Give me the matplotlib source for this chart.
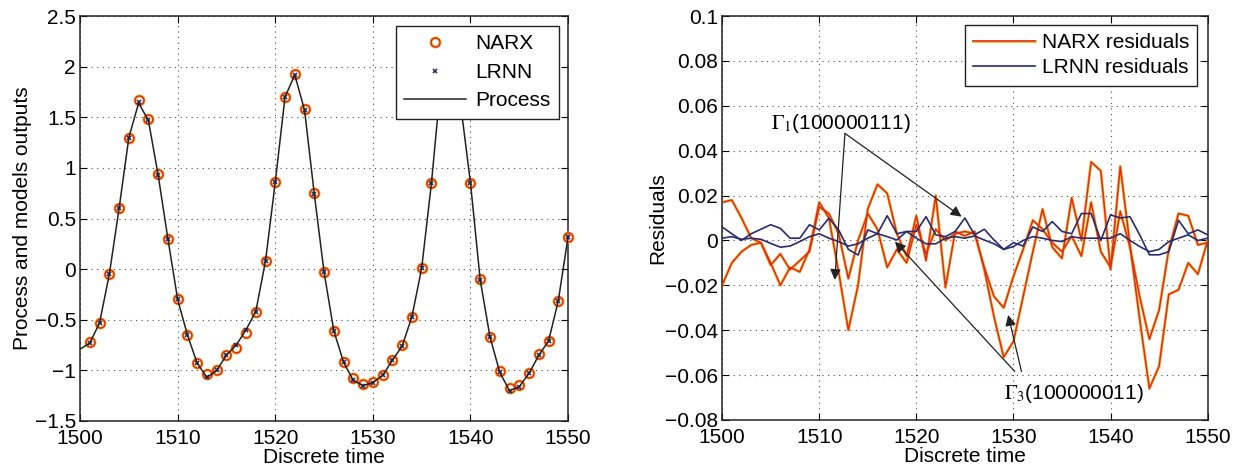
import matplotlib
matplotlib.use("Agg")
import matplotlib.pyplot as plt
from matplotlib.lines import Line2D
from matplotlib.legend_handler import HandlerTuple

plt.rcParams['font.family'] = ['Liberation Sans', 'DejaVu Sans']
plt.rcParams['mathtext.fontset'] = 'stix'

# left panel: process and model outputs
time = list(range(1500, 1551))
process = [-0.79, -0.73, -0.53, -0.05, 0.60, 1.30, 1.64, 1.47, 0.93, 0.30,
           -0.30, -0.65, -0.93, -1.07, -1.00, -0.85, -0.75, -0.60, -0.42, 0.08,
           0.86, 1.70, 1.92, 1.57, 0.74, -0.03, -0.61, -0.92, -1.10, -1.15,
           -1.12, -1.05, -0.90, -0.76, -0.47, 0.01, 0.85, 1.88, 2.15, 1.62,
           0.85, -0.11, -0.67, -1.02, -1.20, -1.16, -1.03, -0.85, -0.71, -0.31,
           0.32]
model_time = time[1:]
narx_out = [-0.72, -0.53, -0.05, 0.60, 1.30, 1.67, 1.48, 0.94, 0.30,
            -0.30, -0.65, -0.93, -1.04, -1.00, -0.85, -0.78, -0.63, -0.42, 0.08,
            0.86, 1.70, 1.93, 1.58, 0.75, -0.03, -0.61, -0.92, -1.08, -1.13,
            -1.11, -1.05, -0.90, -0.75, -0.47, 0.01, 0.85, 1.88, 2.15, 1.62,
            0.85, -0.10, -0.67, -1.01, -1.17, -1.14, -1.03, -0.84, -0.71, -0.31,
            0.32]
lrnn_out = [-0.73, -0.53, -0.05, 0.60, 1.30, 1.65, 1.47, 0.93, 0.30,
            -0.30, -0.65, -0.93, -1.07, -1.00, -0.85, -0.75, -0.60, -0.42, 0.08,
            0.86, 1.70, 1.92, 1.57, 0.74, -0.03, -0.61, -0.92, -1.10, -1.15,
            -1.12, -1.05, -0.90, -0.76, -0.47, 0.01, 0.85, 1.88, 2.15, 1.62,
            0.85, -0.11, -0.67, -1.02, -1.20, -1.16, -1.03, -0.85, -0.71, -0.31,
            0.32]

# right panel: residuals of the two structures
narx_res_a = [0.017, 0.018, 0.010, 0.001, -0.001, -0.010, -0.020, -0.012, -0.014, -0.004,
              0.017, 0.010, -0.014, -0.040, -0.020, 0.014, 0.025, 0.021, 0.003, -0.007,
              0.011, -0.009, 0.020, -0.021, 0.004, 0.002, 0.004, -0.013, -0.034, -0.052,
              -0.045, -0.025, -0.005, 0.014, -0.003, -0.008, 0.019, 0.000, 0.035, 0.031,
              -0.013, 0.033, -0.002, -0.035, -0.066, -0.056, -0.024, -0.022, -0.010, -0.015,
              0.000]
narx_res_b = [-0.020, -0.010, -0.005, -0.002, -0.001, -0.011, -0.006, -0.013, -0.009, -0.005,
              0.015, 0.012, 0.003, -0.017, 0.000, 0.012, 0.005, -0.012, -0.004, -0.010,
              0.007, -0.006, 0.005, 0.000, 0.003, 0.004, 0.003, -0.012, -0.025, -0.030,
              -0.016, -0.004, 0.009, 0.005, -0.001, -0.005, 0.002, -0.007, 0.017, -0.005,
              -0.012, 0.013, -0.003, -0.025, -0.044, -0.031, -0.004, 0.012, 0.011, -0.002,
              -0.001]
lrnn_res_a = [0.006, 0.003, 0.000, 0.003, 0.005, 0.007, 0.0054, 0.001, 0.001, 0.007,
              0.0047, 0.0099, 0.0047, -0.004, -0.0065, 0.0047, 0.003, 0.011, 0.003, 0.004,
              0.004, 0.0106, 0.0025, 0.0017, 0.004, 0.010, 0.0025, 0.005, 0.0002, -0.004,
              -0.001, -0.0025, 0.006, 0.004, 0.0084, 0.004, 0.003, 0.012, 0.012, 0.000,
              0.0114, 0.010, 0.0106, 0.0025, -0.0064, -0.0064, -0.005, 0.009, 0.003, 0.0047,
              0.0025]
lrnn_res_b = [0.001, 0.0017, 0.0005, 0.001, 0.0005, -0.0013, -0.003, -0.0025, -0.0005, 0.0017,
              0.003, 0.001, -0.0005, -0.0025, -0.0015, 0.001, 0.003, 0.0017, 0.0002, 0.004,
              0.001, -0.0015, -0.0015, 0.001, 0.0017, 0.001, 0.002, 0.0002, -0.0015, -0.004,
              -0.0027, 0.000, 0.0017, 0.001, 0.000, -0.0005, 0.0017, 0.001, 0.001, 0.001,
              0.001, 0.003, 0.000, -0.0027, -0.005, -0.004, -0.0005, 0.001, 0.0025, 0.000,
              0.001]

x_ticks = [1500, 1510, 1520, 1530, 1540, 1550]
y_ticks_left = [-1.5, -1, -0.5, 0, 0.5, 1, 1.5, 2, 2.5]
y_ticks_right = [-0.08, -0.06, -0.04, -0.02, 0, 0.02, 0.04, 0.06, 0.08, 0.1]

narx_color = '#E02A1E'
narx_halo = '#F5C23A'
lrnn_color = '#2A2A6E'
fs = 15

fig = plt.figure(figsize=(12.45, 4.75), dpi=100)
ax1 = fig.add_axes([0.0643, 0.1137, 0.392, 0.8526])
ax2 = fig.add_axes([0.580, 0.1158, 0.390, 0.8505])


def matlab_style(ax):
    ax.grid(True, linestyle=(0, (1, 4)), color='0.3', linewidth=0.8)
    ax.tick_params(direction='in', top=True, right=True, length=5,
                   labelsize=fs, pad=3)
    ax.tick_params(axis='x', pad=6)
    for sp in ax.spines.values():
        sp.set_linewidth(1.1)
        sp.set_color('#222222')


def minus(vals):
    return [f'{v:g}'.replace('-', '\u2212') for v in vals]


ax1.plot(model_time, narx_out, linestyle='none', marker='o', ms=6.5, mfc='none',
         mec=narx_halo, mew=2.2, clip_on=False, zorder=3)
ax1.plot(model_time, narx_out, linestyle='none', marker='o', ms=6.5, mfc='none',
         mec=narx_color, mew=1.1, clip_on=False, zorder=3)
ax1.plot(model_time, lrnn_out, linestyle='none', marker='x', ms=3, mew=1.2,
         color=lrnn_color, clip_on=False, zorder=4)
ax1.plot(time, process, color='#222222', lw=1.1, zorder=5)
ax1.set_xlim(1500, 1550)
ax1.set_ylim(-1.5, 2.5)
ax1.set_xticks(x_ticks)
ax1.set_yticks(y_ticks_left)
ax1.set_yticklabels(minus(y_ticks_left))
ax1.set_xlabel('Discrete time', fontsize=fs, labelpad=0)
ax1.set_ylabel('Process and models outputs', fontsize=fs, labelpad=2)
matlab_style(ax1)

narx_mk = (Line2D([], [], ls='none', marker='o', ms=6.5, mfc='none', mec=narx_halo, mew=2.2),
           Line2D([], [], ls='none', marker='o', ms=6.5, mfc='none', mec=narx_color, mew=1.1))
lrnn_mk = Line2D([], [], ls='none', marker='x', ms=3, mew=1.2, color=lrnn_color)
proc_h = Line2D([], [], color='#222222', lw=1.1)
leg1 = ax1.legend([narx_mk, lrnn_mk, proc_h], ['NARX', 'LRNN', 'Process'],
                  handler_map={tuple: HandlerTuple(ndivide=1)},
                  loc='upper right', bbox_to_anchor=(0.982, 0.975), borderaxespad=0,
                  fontsize=fs, frameon=True, fancybox=False, edgecolor='#222222',
                  framealpha=1, borderpad=0.4, handlelength=3.0,
                  labelspacing=0.45, handletextpad=0.45)
leg1.get_frame().set_linewidth(1.0)
leg1.set_zorder(10)

for res in (narx_res_a, narx_res_b):
    ax2.plot(time, res, color=narx_halo, lw=2.1, zorder=2)
    ax2.plot(time, res, color=narx_color, lw=1.1, zorder=3)
ax2.plot(time, lrnn_res_a, color=lrnn_color, lw=1.2, zorder=4)
ax2.plot(time, lrnn_res_b, color=lrnn_color, lw=1.2, zorder=4)
ax2.set_xlim(1500, 1550)
ax2.set_ylim(-0.08, 0.1)
ax2.set_xticks(x_ticks)
ax2.set_yticks(y_ticks_right)
ax2.set_yticklabels(minus(y_ticks_right))
ax2.set_xlabel('Discrete time', fontsize=fs, labelpad=0)
ax2.set_ylabel('Residuals', fontsize=fs, labelpad=-2)
matlab_style(ax2)

narx_h = (Line2D([], [], color=narx_halo, lw=2.1), Line2D([], [], color=narx_color, lw=1.1))
lrnn_h = Line2D([], [], color=lrnn_color, lw=1.2)
leg2 = ax2.legend([narx_h, lrnn_h], ['NARX residuals', 'LRNN residuals'],
                  handler_map={tuple: HandlerTuple(ndivide=1)},
                  loc='upper right', bbox_to_anchor=(0.979, 0.978), borderaxespad=0,
                  fontsize=fs, frameon=True, fancybox=False, edgecolor='#222222',
                  framealpha=1, borderpad=0.4, handlelength=3.0,
                  labelspacing=0.3, handletextpad=0.3)
leg2.get_frame().set_linewidth(1.0)
leg2.set_zorder(10)

# structure annotations
arrow = dict(arrowstyle='-|>', color='#222222', lw=0.9, mutation_scale=16,
             shrinkA=0, shrinkB=0)
g1_start = (1512.65, 0.0477)
ax2.text(1505.0, 0.052, r'$\Gamma_1$(100000111)', fontsize=fs, va='center', ha='left')
ax2.annotate('', xy=(1511.6, -0.0176), xytext=g1_start, arrowprops=arrow)
ax2.annotate('', xy=(1524.66, 0.0106), xytext=g1_start, arrowprops=arrow)
ax2.text(1529.0, -0.068, r'$\Gamma_3$(100000011)', fontsize=fs, va='center', ha='left')
ax2.annotate('', xy=(1529.46, -0.0332), xytext=(1530.83, -0.0584), arrowprops=arrow)
ax2.annotate('', xy=(1517.8, -0.0005), xytext=(1530.14, -0.0584), arrowprops=arrow)

fig.savefig('out.png', dpi=100)
